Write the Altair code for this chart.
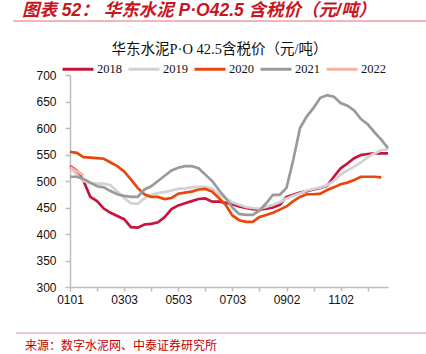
import altair as alt
import pandas as pd

# ---- data ----
tick_labels = ["0101", "0303", "0503", "0703", "0902", "1102"]
years = ["2018", "2019", "2020", "2021", "2022"]
colors = ["#C8143C", "#D2D2D2", "#E8470C", "#9A9A9A", "#F7B3A3"]

s2018 = [528, 520, 500, 470, 462, 448, 440, 434, 428, 413, 412, 418, 419, 422, 432, 447,
         454, 458, 462, 466, 467, 461, 461, 459, 456, 452, 449, 447, 446, 448, 450, 455,
         470, 474, 478, 481, 484, 487, 491, 508, 524, 533, 543, 549, 551, 552, 552, 552]
s2019 = [526, 512, 500, 496, 495, 495, 492, 480, 468, 458, 457, 467, 474, 477, 479, 482,
         485, 486, 488, 489, 489, 486, 475, 467, 460, 455, 451, 449, 448, 451, 455, 460,
         467, 472, 477, 482, 485, 488, 492, 500, 512, 520, 527, 535, 545, 552, 558, 560]
s2020 = [555, 553, 545, 544, 543, 542, 535, 528, 518, 503, 487, 475, 470, 470, 466, 468,
         476, 478, 480, 484, 485, 480, 468, 455, 435, 426, 423, 423, 432, 436, 440, 446,
         452, 462, 470, 475, 475, 476, 483, 488, 494, 497, 502, 508, 508, 508, 507]
s2021 = [508, 508, 504, 497, 490, 488, 481, 475, 472, 470, 470, 484, 490, 500, 510, 520,
         525, 528, 528, 524, 512, 500, 483, 468, 450, 438, 436, 436, 444, 458, 474, 474,
         487, 540, 600, 622, 638, 657, 662, 659, 647, 642, 633, 617, 607, 592, 578, 562]
s2022 = [526, 519, 510]

series = [s2018, s2019, s2020, s2021, s2022]
rows = []
for yr, vals in zip(years, series):
    for i, v in enumerate(vals):
        rows.append({"idx": i, "price": v, "year": yr})
df = pd.DataFrame(rows)

label_arr = "[" + ",".join("'%s'" % t for t in tick_labels) + "]"
label_expr = "datum.value % 8 == 0 ? " + label_arr + "[datum.value / 8] : ''"

W, H = 318, 212
LEFT, TOP = 70, 75

lines = alt.Chart(df).mark_line(strokeWidth=2.7, interpolate="linear").encode(
    x=alt.X("idx:Q",
            scale=alt.Scale(domain=[0, 47], nice=False, zero=False),
            axis=alt.Axis(values=list(range(0, 48, 4)), labelExpr=label_expr, title=None,
                          grid=False, domainColor="#BDBDBD", domainWidth=1.5,
                          tickColor="#BDBDBD", tickWidth=1.5, tickSize=4,
                          labelFont="Liberation Sans", labelFontSize=12, labelColor="#111111",
                          labelPadding=3, labelFlush=False, labelOverlap=False)),
    y=alt.Y("price:Q",
            scale=alt.Scale(domain=[300, 700], nice=False, zero=False),
            axis=alt.Axis(values=list(range(300, 701, 50)), title=None, grid=False,
                          domainColor="#BDBDBD", domainWidth=1.5,
                          tickColor="#BDBDBD", tickWidth=1.5, tickSize=5,
                          labelFont="Liberation Sans", labelFontSize=12, labelColor="#111111",
                          labelPadding=9)),
    color=alt.Color("year:N",
                    scale=alt.Scale(domain=years, range=colors),
                    legend=alt.Legend(orient="none", direction="horizontal", title=None,
                                      legendX=-9, legendY=-23, symbolType="stroke",
                                      symbolSize=961, symbolStrokeWidth=3,
                                      labelFont="Liberation Serif", labelFontSize=12.5,
                                      labelColor="#111111", labelOffset=2,
                                      columnPadding=0, padding=0)),
    order=alt.Order("year:N"),
)

txt_df = pd.DataFrame({"t": ["x"]})

header = alt.Chart(txt_df).mark_text(
    text="图表 52： 华东水泥 P·O42.5 含税价（元/吨）", align="left", baseline="middle",
    font="Liberation Sans, Noto Sans CJK SC", fontSize=17.5, fontWeight="bold",
    fontStyle="italic", color="#C9151E"
).encode(x=alt.value(22 - LEFT), y=alt.value(11 - TOP))

header_rule = alt.Chart(txt_df).mark_rule(color="#E07070", strokeWidth=1).encode(
    x=alt.value(13 - LEFT), x2=alt.value(426 - LEFT), y=alt.value(21 - TOP))

chart_title = alt.Chart(txt_df).mark_text(
    text="华东水泥P·O 42.5含税价（元/吨）", align="center", baseline="middle",
    font="Liberation Serif, Noto Sans CJK SC", fontSize=14.5, color="#111111"
).encode(x=alt.value(219.5 - LEFT), y=alt.value(50 - TOP))

footer_rule = alt.Chart(txt_df).mark_rule(color="#F2B8B8", strokeWidth=1.5).encode(
    x=alt.value(16 - LEFT), x2=alt.value(426 - LEFT), y=alt.value(333 - TOP))

footer = alt.Chart(txt_df).mark_text(
    text="来源：数字水泥网、中泰证券研究所", align="left", baseline="middle",
    font="Noto Sans CJK SC", fontSize=12, color="#C00000"
).encode(x=alt.value(25 - LEFT), y=alt.value(346 - TOP))

chart = alt.layer(lines, header, header_rule, chart_title, footer_rule, footer).properties(
    width=W, height=H,
    autosize=alt.AutoSizeParams(type="none"),
    padding={"left": LEFT, "top": TOP, "right": 426 - LEFT - W, "bottom": 354 - TOP - H},
    background="white",
).configure_view(stroke=None)

chart.save("out.html", embed_options={"renderer": "svg", "actions": False})
